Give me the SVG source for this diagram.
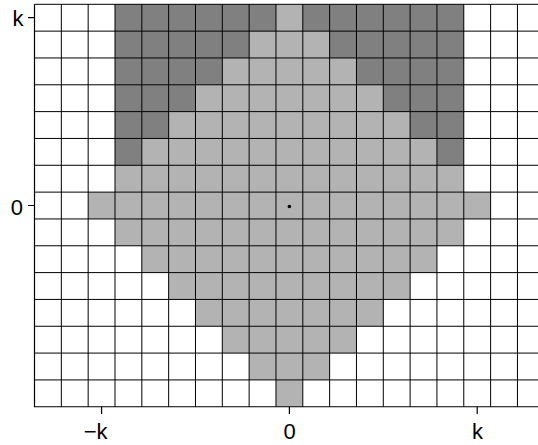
<svg xmlns="http://www.w3.org/2000/svg" width="538" height="445" viewBox="0 0 538 445">
<style>
.light{fill:#b3b3b3;stroke:none}
.dark{fill:#808080;stroke:none}
.grid{fill:none;stroke:#000;stroke-width:1}
.axis{fill:none;stroke:#000;stroke-width:1.2}
.lbl{font-family:"Liberation Sans",Arial,sans-serif;font-size:22px;fill:#000}
</style>
<rect x="0" y="0" width="538" height="445" fill="#fff"/>
<g id="light-region">
<rect class="light" x="114.99" y="4.3" width="348.79" height="187.81"/>
<rect class="light" x="88.16" y="192.11" width="402.45" height="26.83"/>
<rect class="light" x="114.99" y="218.94" width="348.79" height="26.83"/>
<rect class="light" x="141.82" y="245.77" width="295.13" height="26.83"/>
<rect class="light" x="168.65" y="272.6" width="241.47" height="26.83"/>
<rect class="light" x="195.48" y="299.43" width="187.81" height="26.83"/>
<rect class="light" x="222.31" y="326.26" width="134.15" height="26.83"/>
<rect class="light" x="249.14" y="353.09" width="80.49" height="26.83"/>
<rect class="light" x="275.97" y="379.92" width="26.83" height="26.83"/>
</g>
<g id="dark-region">
<polygon class="dark" points="114.99,4.3 275.97,4.3 275.97,31.13 249.14,31.13 249.14,57.96 222.31,57.96 222.31,84.79 195.48,84.79 195.48,111.62 168.65,111.62 168.65,138.45 141.82,138.45 141.82,165.28 114.99,165.28"/>
<polygon class="dark" points="302.8,4.3 463.78,4.3 463.78,165.28 436.95,165.28 436.95,138.45 410.12,138.45 410.12,111.62 383.29,111.62 383.29,84.79 356.46,84.79 356.46,57.96 329.63,57.96 329.63,31.13 302.8,31.13"/>
</g>
<g id="grid">
<path class="grid" d="M61.33 4.3V406.75M88.16 4.3V406.75M114.99 4.3V406.75M141.82 4.3V406.75M168.65 4.3V406.75M195.48 4.3V406.75M222.31 4.3V406.75M249.14 4.3V406.75M275.97 4.3V406.75M302.8 4.3V406.75M329.63 4.3V406.75M356.46 4.3V406.75M383.29 4.3V406.75M410.12 4.3V406.75M436.95 4.3V406.75M463.78 4.3V406.75M490.61 4.3V406.75M517.44 4.3V406.75"/>
<path class="grid" d="M34.5 4.3H538M34.5 31.13H538M34.5 57.96H538M34.5 84.79H538M34.5 111.62H538M34.5 138.45H538M34.5 165.28H538M34.5 192.11H538M34.5 218.94H538M34.5 245.77H538M34.5 272.6H538M34.5 299.43H538M34.5 326.26H538M34.5 353.09H538M34.5 379.92H538"/>
</g>
<g id="axes">
<path class="axis" d="M34.5 4.3V406.75H538"/>
<path class="axis" d="M28 17.7H34.5M28 205.5H34.5M101.57 406.75V414M289.39 406.75V414M477.2 406.75V414"/>
<circle cx="289.4" cy="206.5" r="1.8" fill="#000"/>
</g>
<g id="labels">
<text class="lbl" x="23.5" y="26" text-anchor="end">k</text>
<text class="lbl" x="23" y="214.5" text-anchor="end">0</text>
<text class="lbl" x="107.5" y="439" text-anchor="end">−k</text>
<text class="lbl" x="289.5" y="439" text-anchor="middle">0</text>
<text class="lbl" x="477.5" y="439" text-anchor="middle">k</text>
</g>
</svg>
